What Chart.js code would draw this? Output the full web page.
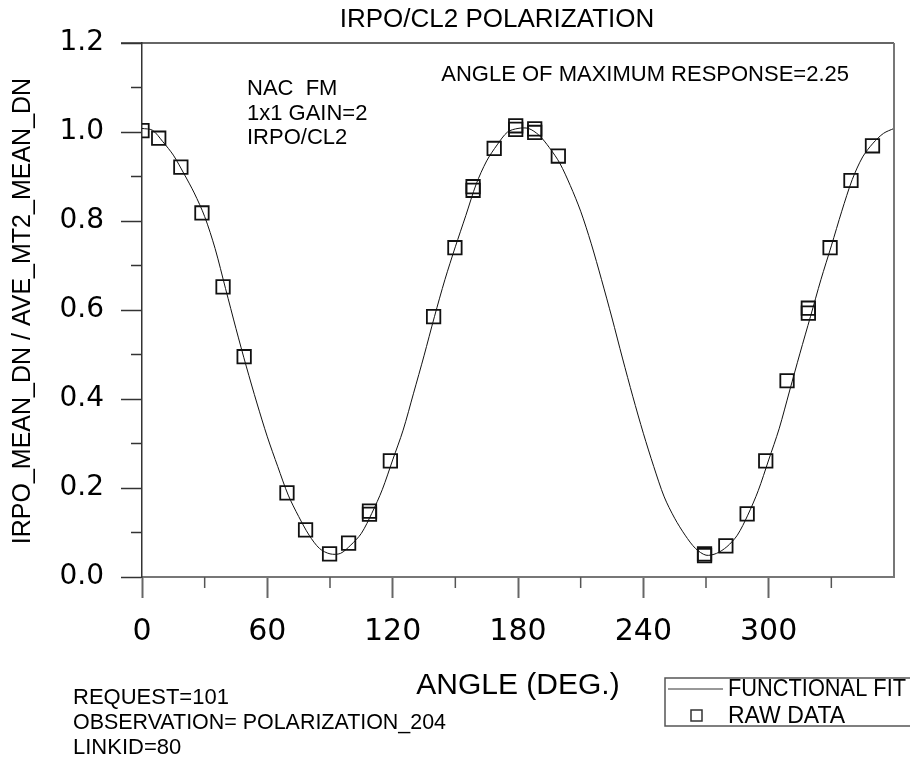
<!DOCTYPE html>
<html>
<head>
<meta charset="utf-8">
<script src="https://cdn.jsdelivr.net/npm/chart.js@4.4.0/dist/chart.umd.min.js"></script>
<style>
  html, body { margin: 0; padding: 0; background: #fff; }
  #wrap { width: 910px; height: 764px; position: relative; }
</style>
</head>
<body>
<div id="wrap"><canvas id="polar_chart" width="910" height="764"></canvas></div>
<script>
// functional fit, every 5 degrees
var fitAngles = [0, 5, 10, 15, 20, 25, 30, 35, 40, 45, 50, 55, 60, 65, 70, 75, 80, 85, 90,
    95, 100, 105, 110, 115, 120, 125, 130, 135, 140, 145, 150, 155, 160, 165, 170, 175, 180,
    185, 190, 195, 200, 205, 210, 215, 220, 225, 230, 235, 240, 245, 250, 255, 260, 265, 270,
    275, 280, 285, 290, 295, 300, 305, 310, 315, 320, 325, 330, 335, 340, 345, 350, 355, 360];
var fitValues = [1.008, 1.004, 0.978, 0.948, 0.907, 0.863, 0.810, 0.738, 0.648, 0.558, 0.472, 0.391, 0.315, 0.248, 0.184, 0.136, 0.094, 0.064, 0.052,
    0.053, 0.072, 0.098, 0.143, 0.196, 0.263, 0.330, 0.413, 0.497, 0.585, 0.668, 0.742, 0.812, 0.883, 0.935, 0.971, 1.000, 1.008,
    1.008, 0.993, 0.965, 0.930, 0.880, 0.822, 0.750, 0.668, 0.582, 0.492, 0.405, 0.323, 0.248, 0.180, 0.132, 0.094, 0.064, 0.049,
    0.053, 0.068, 0.094, 0.139, 0.194, 0.263, 0.333, 0.418, 0.503, 0.585, 0.668, 0.744, 0.822, 0.893, 0.944, 0.975, 0.997, 1.008];

// raw data squares
var rawAngles = [0, 8, 18.6, 28.7, 38.8, 48.9, 69.4, 78.3, 89.8, 98.9, 108.9, 108.9, 118.9,
    139.6, 149.8, 158.5, 158.5, 168.6, 178.9, 178.9, 188, 188, 199.3,
    269.3, 269.3, 279.5, 289.7, 298.6, 308.8, 319, 319, 329.4, 339.4, 349.7];
var rawValues = [1.003, 0.986, 0.921, 0.818, 0.652, 0.495, 0.189, 0.106, 0.052, 0.076, 0.148, 0.141, 0.261,
    0.585, 0.740, 0.877, 0.869, 0.963, 1.014, 1.006, 1.007, 0.999, 0.946,
    0.052, 0.048, 0.070, 0.142, 0.261, 0.441, 0.604, 0.593, 0.740, 0.891, 0.969];

var xTicks = [0, 60, 120, 180, 240, 300];
var xMinorTicks = [30, 90, 150, 210, 270, 330];
var yMinorTicks = [0.1, 0.3, 0.5, 0.7, 0.9, 1.1];

var chartTitle = "IRPO/CL2 POLARIZATION";
var xTitle = "ANGLE (DEG.)";
var yTitle = "IRPO_MEAN_DN / AVE_MT2_MEAN_DN";
var infoLines = ["NAC  FM", "1x1 GAIN=2", "IRPO/CL2"];
var maxNote = "ANGLE OF MAXIMUM RESPONSE=2.25";
var footLines = ["REQUEST=101", "OBSERVATION= POLARIZATION_204", "LINKID=80"];
var legendLabels = ["FUNCTIONAL FIT", "RAW DATA"];

function toPoints(xs, ys) {
    var pts = [];
    for (var i = 0; i < xs.length; i++) {
        pts.push({ x: xs[i], y: ys[i] });
    }
    return pts;
}

var textFont = "'Liberation Sans', Arial, sans-serif";

var extrasPlugin = {
    id: 'extras',
    afterDraw: function (chart) {
        var ctx = chart.ctx;
        var area = chart.chartArea;
        var xs = chart.scales.x;
        var ys = chart.scales.y;
        ctx.save();

        // top and right frame
        ctx.strokeStyle = '#333';
        ctx.lineWidth = 1.5;
        ctx.beginPath();
        ctx.moveTo(area.left - 21, area.top);
        ctx.lineTo(area.right, area.top);
        ctx.stroke();
        ctx.strokeStyle = '#777';
        ctx.lineWidth = 2;
        ctx.beginPath();
        ctx.moveTo(area.right, area.top);
        ctx.lineTo(area.right, area.bottom);
        ctx.stroke();

        // minor ticks
        ctx.strokeStyle = '#333';
        ctx.lineWidth = 1.5;
        yMinorTicks.forEach(function (v) {
            var py = ys.getPixelForValue(v);
            ctx.beginPath();
            ctx.moveTo(area.left - 11, py);
            ctx.lineTo(area.left, py);
            ctx.stroke();
        });
        ctx.strokeStyle = '#555';
        xMinorTicks.forEach(function (v) {
            var px = xs.getPixelForValue(v);
            ctx.beginPath();
            ctx.moveTo(px, area.bottom);
            ctx.lineTo(px, area.bottom + 11);
            ctx.stroke();
        });

        ctx.fillStyle = '#000';
        ctx.textBaseline = 'middle';

        // title
        ctx.textAlign = 'center';
        ctx.font = "26px " + textFont;
        ctx.fillText(chartTitle, 497, 20, 326);

        // x axis title
        ctx.font = "30px " + textFont;
        ctx.fillText(xTitle, (area.left + area.right) / 2, 686, 206);

        // y axis title
        ctx.save();
        ctx.translate(23, 311);
        ctx.rotate(-Math.PI / 2);
        ctx.font = "25px " + textFont;
        ctx.fillText(yTitle, 0, 0, 472);
        ctx.restore();

        // notes inside the plot
        ctx.textAlign = 'left';
        ctx.font = "22px " + textFont;
        infoLines.forEach(function (t, i) {
            ctx.fillText(t, 247, 89 + i * 24.5);
        });
        ctx.textAlign = 'right';
        ctx.fillText(maxNote, 849, 75, 412);

        // notes under the plot
        ctx.textAlign = 'left';
        ctx.font = "22px " + textFont;
        footLines.forEach(function (t, i) {
            ctx.fillText(t, 73, 698 + i * 25, i == 1 ? 373 : 999);
        });

        // legend
        ctx.strokeStyle = '#555';
        ctx.lineWidth = 1.5;
        ctx.strokeRect(665, 678, 260, 48);
        ctx.strokeStyle = '#333';
        ctx.lineWidth = 1;
        ctx.beginPath();
        ctx.moveTo(668, 689);
        ctx.lineTo(723, 689);
        ctx.stroke();
        ctx.lineWidth = 1.5;
        ctx.strokeRect(691, 710, 11, 11);
        ctx.font = "23px " + textFont;
        ctx.fillText(legendLabels[0], 728, 690, 178);
        ctx.fillText(legendLabels[1], 728, 717, 122);

        ctx.restore();
    }
};

var chartData = {
    datasets: [{
        label: legendLabels[0],
        data: toPoints(fitAngles, fitValues),
        showLine: true,
        borderColor: '#111',
        borderWidth: 1,
        pointRadius: 0,
        tension: 0.3,
        order: 2
    }, {
        label: legendLabels[1],
        data: toPoints(rawAngles, rawValues),
        showLine: false,
        pointStyle: 'rect',
        pointRadius: 9.5,
        pointBorderWidth: 1.8,
        pointBorderColor: '#111',
        pointBackgroundColor: 'rgba(0,0,0,0)',
        order: 1
    }]
};

var chartOptions = {
    responsive: false,
    animation: false,
    layout: {
        padding: { left: 0, right: 13, top: 43, bottom: 0 }
    },
    plugins: {
        legend: { display: false },
        title: { display: false },
        tooltip: { enabled: false }
    },
    scales: {
        x: {
            type: 'linear',
            min: 0,
            max: 360,
            afterFit: function (scale) { scale.height = 187; },
            afterBuildTicks: function (scale) {
                scale.ticks = xTicks.concat([360]).map(function (v) { return { value: v }; });
            },
            border: { color: '#777', width: 2 },
            grid: {
                drawOnChartArea: false,
                tickLength: 21,
                tickWidth: 2,
                tickColor: function (c) { return c.tick && c.tick.value === 360 ? 'rgba(0,0,0,0)' : '#666'; }
            },
            ticks: {
                padding: 16,
                color: '#000',
                font: { family: "'DejaVu Sans'", size: 30 },
                maxRotation: 0,
                autoSkip: false,
                callback: function (v) { return v === 360 ? '' : String(v); }
            }
        },
        y: {
            min: 0,
            max: 1.2,
            afterFit: function (scale) { scale.width = 142; },
            border: { color: '#333', width: 1.5 },
            grid: {
                drawOnChartArea: false,
                tickLength: 21,
                tickWidth: 1.5,
                tickColor: '#333'
            },
            ticks: {
                stepSize: 0.2,
                padding: 17,
                color: '#000',
                font: { family: "'DejaVu Sans'", size: 28 },
                callback: function (v) { return v.toFixed(1); }
            }
        }
    }
};

var chart = new Chart(document.getElementById('polar_chart').getContext('2d'), {
    type: 'scatter',
    data: chartData,
    options: chartOptions,
    plugins: [extrasPlugin]
});
</script>
</body>
</html>
